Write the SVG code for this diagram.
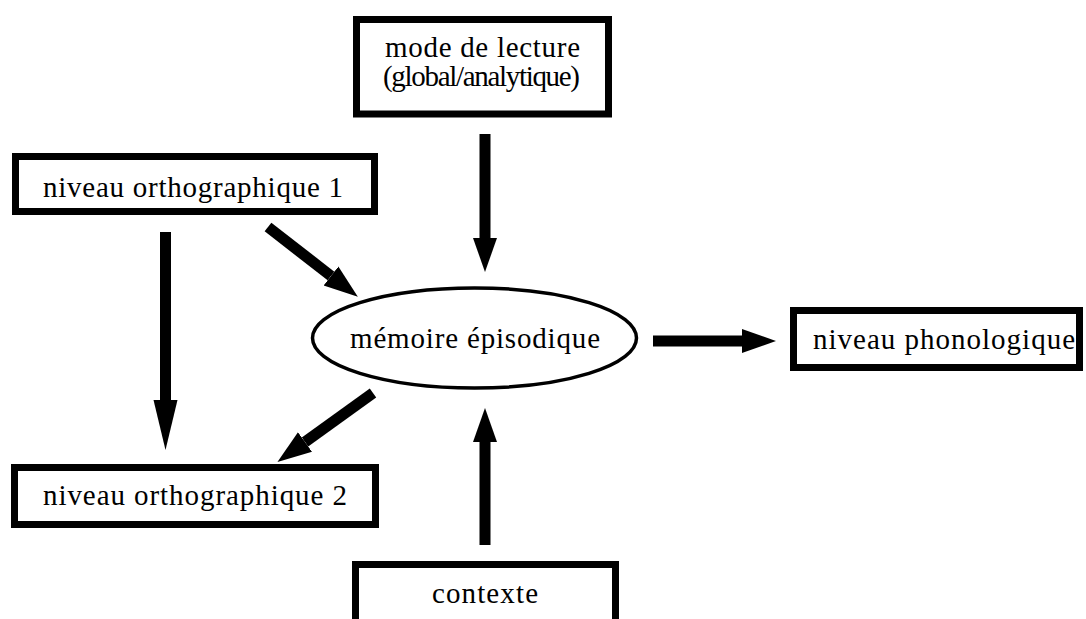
<svg xmlns="http://www.w3.org/2000/svg" width="1086" height="619" viewBox="0 0 1086 619">
<style>
.box{fill:#fff;stroke:#000;stroke-width:7}
.lbl{font-family:"Liberation Serif","Times New Roman",serif;font-size:29px;fill:#000}
.arr{stroke:#000;stroke-width:11;fill:none}
</style>
<defs>
<marker id="head" markerUnits="userSpaceOnUse" markerWidth="36" markerHeight="26" refX="0" refY="12" orient="auto" viewBox="0 0 36 24">
<path d="M0,0 L34,12 L0,24 z" fill="#000"/>
</marker>
<marker id="headLong" markerUnits="userSpaceOnUse" markerWidth="52" markerHeight="26" refX="0" refY="12" orient="auto" viewBox="0 0 52 24">
<path d="M0,0 L50,12 L0,24 z" fill="#000"/>
</marker>
</defs>
<rect width="1086" height="619" fill="#fff"/>
<g id="connectors">
<line class="arr" x1="485" y1="134" x2="485" y2="238" marker-end="url(#head)"/>
<line class="arr" x1="165.5" y1="232" x2="165.5" y2="400" marker-end="url(#headLong)"/>
<line class="arr" x1="485" y1="545" x2="485" y2="442" marker-end="url(#head)"/>
<line class="arr" x1="653" y1="341" x2="742" y2="341" marker-end="url(#head)"/>
<line class="arr" x1="268" y1="227" x2="331" y2="276" marker-end="url(#head)"/>
<line class="arr" x1="373" y1="393" x2="305" y2="442" marker-end="url(#head)"/>
</g>
<g id="mode">
<rect class="box" x="356.5" y="19.5" width="252" height="94.5"/>
<text class="lbl" x="385" y="57" textLength="195" lengthAdjust="spacing">mode de lecture</text>
<text class="lbl" x="383" y="86" textLength="197" lengthAdjust="spacing">(global/analytique)</text>
</g>
<g id="ortho1">
<rect class="box" x="15.5" y="156.5" width="359" height="55"/>
<text class="lbl" x="43" y="197" textLength="300" lengthAdjust="spacing">niveau orthographique 1</text>
</g>
<g id="ortho2">
<rect class="box" x="14.5" y="467.5" width="361" height="57"/>
<text class="lbl" x="43" y="505" textLength="304" lengthAdjust="spacing">niveau orthographique 2</text>
</g>
<g id="memoire">
<ellipse cx="474.5" cy="338" rx="162" ry="50" fill="#fff" stroke="#000" stroke-width="3.5"/>
<text class="lbl" x="350" y="348" textLength="250" lengthAdjust="spacing">mémoire épisodique</text>
</g>
<g id="phono">
<rect class="box" x="793.5" y="310.5" width="286" height="57"/>
<text class="lbl" x="813" y="349" textLength="262" lengthAdjust="spacing">niveau phonologique</text>
</g>
<g id="contexte">
<rect class="box" x="355.5" y="564.5" width="260" height="70"/>
<text class="lbl" x="432" y="603" textLength="106" lengthAdjust="spacing">contexte</text>
</g>
</svg>
